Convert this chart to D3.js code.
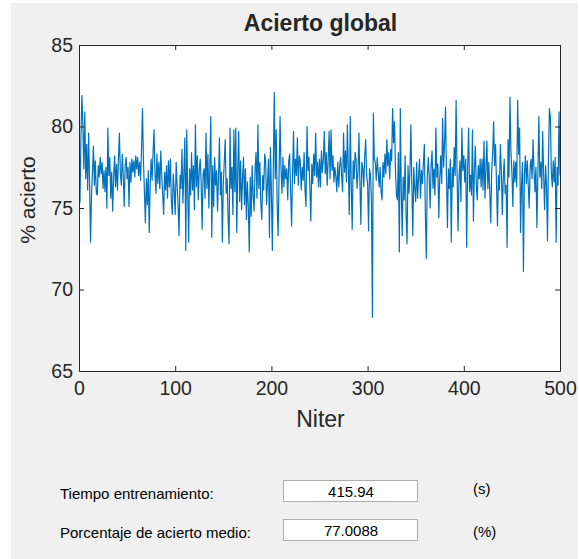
<!DOCTYPE html>
<html>
<head>
<meta charset="utf-8">
<title>Acierto global</title>
<script src="https://d3js.org/d3.v7.min.js"></script>
<style>
  body { margin: 0; background: #fff; }
  text { font-family: "Liberation Sans", Arial, sans-serif; fill: #262626; }
  .panel text { fill: #000; }
</style>
</head>
<body>
<svg width="580" height="559"></svg>
<script>
// % acierto for each training iteration (1..500)
var acierto = [
  75.3,79.2,81.9,80.2,77.4,80.9,76.8,78.9,76.1,79.6,76.5,72.9,75.8,77.2,78.8,76.4,77.9,75.9,75.8,77.6,76.9,78.1,77.1,77.8,76.2,
  77.3,76.0,77.5,75.0,79.9,77.0,78.1,75.6,77.2,74.8,76.9,78.2,76.3,77.7,76.1,78.0,79.6,77.1,76.4,78.3,77.0,75.1,77.6,78.1,76.8,
  77.5,75.1,77.8,76.6,78.0,77.2,77.9,76.9,78.2,77.4,78.1,77.0,77.8,76.7,78.6,81.1,77.9,76.0,74.1,76.8,75.2,77.3,73.5,76.4,78.0,
  76.7,78.4,79.8,77.1,75.9,78.3,76.5,77.8,76.2,78.5,77.0,75.8,74.6,77.2,76.1,77.6,75.6,77.9,76.3,78.0,75.4,74.6,77.1,76.0,74.6,
  77.8,76.4,75.2,73.3,77.0,76.2,78.6,75.3,77.2,79.3,72.4,79.8,76.0,72.9,77.4,75.8,78.4,76.1,77.6,74.9,80.1,76.3,78.2,75.5,77.3,
  78.0,76.6,73.7,77.1,77.4,75.6,79.6,76.2,78.3,75.0,77.5,80.6,73.2,77.6,75.1,78.1,76.4,77.3,74.8,76.9,79.3,75.8,77.2,72.9,76.5,
  77.8,79.2,75.9,76.8,74.4,72.8,79.9,76.2,77.5,74.6,79.8,76.0,79.9,73.5,77.2,79.7,75.4,77.9,74.9,76.8,78.1,75.2,77.4,74.3,76.6,
  75.1,72.3,76.9,74.5,77.6,75.8,74.8,77.3,78.4,75.6,80.1,76.2,77.8,75.3,74.3,77.0,76.1,78.3,77.9,75.2,76.6,78.0,73.2,78.7,76.0,
  72.4,77.5,82.1,76.8,79.8,75.2,73.3,77.1,80.6,77.4,75.9,78.1,76.3,77.6,76.8,77.4,75.5,77.9,78.3,76.0,73.9,77.2,79.7,76.5,78.0,
  77.0,79.3,76.4,78.2,77.9,76.1,77.5,76.7,78.4,76.0,75.1,80.0,77.3,78.1,76.2,74.2,77.7,76.5,78.3,77.0,79.6,76.9,77.8,76.3,78.0,
  76.3,78.5,77.2,78.0,79.7,77.1,78.4,76.4,77.9,79.7,76.8,79.8,77.3,78.2,76.6,77.5,76.9,76.0,77.8,76.3,77.6,78.1,77.0,76.0,79.6,
  77.2,78.5,76.6,80.1,77.3,74.6,80.6,76.4,73.7,77.9,76.8,78.4,78.0,76.2,77.1,79.6,76.6,74.0,77.8,77.5,76.3,78.2,79.2,77.0,76.5,
  73.6,77.4,77.0,75.5,68.3,80.8,78.0,77.8,76.7,78.1,77.2,76.3,77.5,76.0,75.5,77.8,76.9,78.3,77.1,79.2,77.6,78.4,76.8,78.6,77.9,
  81.1,79.0,80.3,77.2,75.8,75.5,78.4,72.3,81.1,76.1,73.3,76.9,75.5,78.2,74.6,72.8,77.6,75.9,77.2,80.1,76.4,73.3,77.5,76.2,75.4,
  77.8,75.6,76.9,78.0,75.6,77.3,76.5,77.8,78.9,74.8,71.9,76.8,78.1,77.0,75.0,77.6,78.5,76.2,77.4,75.8,79.9,76.9,77.7,74.4,76.8,
  78.2,76.5,80.5,77.5,79.0,81.2,76.9,73.8,77.4,76.2,78.0,72.9,77.5,76.3,78.7,77.0,81.6,77.2,73.6,76.8,77.9,75.4,79.9,77.3,78.2,
  76.6,78.0,72.6,77.4,79.9,76.0,77.0,75.8,79.8,74.2,77.3,78.8,76.4,75.5,77.6,76.8,78.0,76.3,78.0,76.1,79.1,75.6,77.4,79.1,76.2,
  77.8,76.0,74.1,77.2,78.4,80.3,77.6,78.9,76.5,73.9,77.0,76.1,78.9,77.3,74.6,76.8,78.0,75.9,76.4,72.6,79.2,76.9,81.8,78.5,77.2,
  75.1,77.9,76.6,77.8,76.3,81.6,78.3,79.9,73.5,76.4,77.8,71.1,77.0,78.2,76.5,77.9,76.4,75.0,77.6,78.0,76.8,79.2,77.3,76.0,77.5,
  73.8,77.1,80.6,76.9,77.8,76.2,79.7,77.0,74.9,77.6,76.4,73.0,78.0,81.1,80.6,77.2,76.3,77.9,76.6,78.1,72.9,77.5,76.4,80.9,77.0
];
var xTicks = [0, 100, 200, 300, 400, 500];
var yTicks = [65, 70, 75, 80, 85];
var labels = ["Tiempo entrenamiento:", "Porcentaje de acierto medio:"];
var values = ["415.94", "77.0088"];
var units = ["(s)", "(%)"];

var svg = d3.select("svg");

// figure background
svg.append("rect").attr("x", 11).attr("y", 3).attr("width", 567).attr("height", 556).attr("fill", "#f0f0f0");

// plot box (don't call it "top", that's window.top)
var axL = 79, axR = 560, axT = 45, axB = 371;
var x = d3.scaleLinear().domain([0, 500]).range([axL, axR]);
var y = d3.scaleLinear().domain([65, 85]).range([axB, axT]);

svg.append("rect").attr("x", axL).attr("y", axT).attr("width", axR - axL).attr("height", axB - axT).attr("fill", "#fff");

var clip = svg.append("clipPath").attr("id", "clip");
clip.append("rect").attr("x", axL).attr("y", axT).attr("width", axR - axL).attr("height", axB - axT);

var line = d3.line().x(function(d, i) { return x(i + 1); }).y(function(d) { return y(d); });
svg.append("path")
  .datum(acierto)
  .attr("clip-path", "url(#clip)")
  .attr("d", line)
  .attr("fill", "none")
  .attr("stroke", "#0072bd")
  .attr("stroke-width", 1.2)
  .attr("stroke-linejoin", "round");

// axes, matlab style: ticks inside, box on
function styleAxis(g) {
  g.select(".domain").attr("stroke", "#262626");
  g.selectAll(".tick line").attr("stroke", "#262626");
  g.selectAll(".tick text").attr("font-size", "19.5px").attr("fill", "#333").attr("font-family", "Liberation Sans, Arial, sans-serif");
}
svg.append("g").attr("transform", "translate(0," + axB + ")")
  .call(d3.axisBottom(x).tickValues(xTicks).tickSizeInner(-5).tickSizeOuter(0).tickPadding(10))
  .call(styleAxis);
svg.append("g").attr("transform", "translate(" + axL + ",0)")
  .call(d3.axisLeft(y).tickValues(yTicks).tickSizeInner(-5).tickSizeOuter(0).tickPadding(6))
  .call(styleAxis);
svg.append("g").attr("transform", "translate(0," + axT + ")")
  .call(d3.axisTop(x).tickValues(xTicks).tickSizeInner(-5).tickSizeOuter(0).tickFormat(""))
  .call(styleAxis);
svg.append("g").attr("transform", "translate(" + axR + ",0)")
  .call(d3.axisRight(y).tickValues(yTicks).tickSizeInner(-5).tickSizeOuter(0).tickFormat(""))
  .call(styleAxis);

// titles
svg.append("text").attr("x", (axL + axR) / 2 + 1).attr("y", 31).attr("text-anchor", "middle")
  .attr("font-size", "23px").attr("font-weight", "bold").attr("fill", "#000").text("Acierto global");
svg.append("text").attr("x", (axL + axR) / 2 + 1).attr("y", 427).attr("text-anchor", "middle")
  .attr("font-size", "23px").attr("fill", "#333").text("Niter");
svg.append("text").attr("transform", "translate(35,200)rotate(-90)").attr("text-anchor", "middle")
  .attr("font-size", "21px").attr("fill", "#333").text("% acierto");

// lower panel
var panel = svg.append("g").attr("class", "panel");
var rowY = [480, 519];
labels.forEach(function(t, i) {
  panel.append("text").attr("x", 60).attr("y", rowY[i] + 19).attr("font-size", "15px").text(t);
  panel.append("rect").attr("x", 283.5).attr("y", rowY[i] + 0.5).attr("width", 134).attr("height", 21)
    .attr("fill", "#fff").attr("stroke", "#adadad");
  panel.append("text").attr("x", 351).attr("y", rowY[i] + 17).attr("text-anchor", "middle").attr("font-size", "15px").text(values[i]);
  panel.append("text").attr("x", 473).attr("y", rowY[i] + (i == 0 ? 14 : 18)).attr("font-size", "15px").text(units[i]);
});
</script>
</body>
</html>
